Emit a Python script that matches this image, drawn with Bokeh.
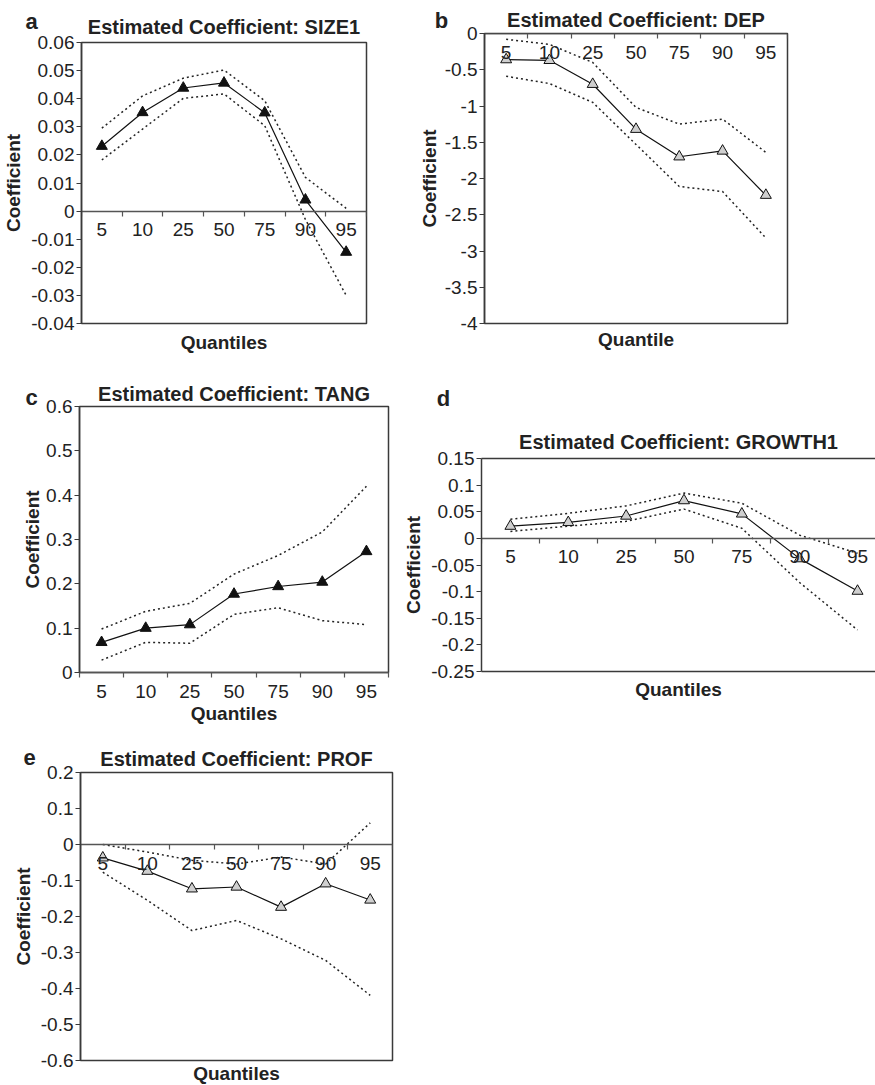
from bokeh.plotting import figure
from bokeh.models import Range1d, FixedTicker, LinearAxis, Label, Title
from bokeh.layouts import column, row
from bokeh.embed import file_html
from bokeh.resources import INLINE

QUANTILES = ["5", "10", "25", "50", "75", "90", "95"]

SIZE1_COEF = [0.0231, 0.0351, 0.0438, 0.0456, 0.0350, 0.0040, -0.0146]
SIZE1_UPPER = [0.0295, 0.0410, 0.0473, 0.0502, 0.0393, 0.0120, 0.0010]
SIZE1_LOWER = [0.0182, 0.0292, 0.0401, 0.0417, 0.0304, -0.0030, -0.0300]
SIZE1_YTICKS = ["-0.04", "-0.03", "-0.02", "-0.01", "0", "0.01", "0.02",
                "0.03", "0.04", "0.05", "0.06"]

DEP_COEF = [-0.36, -0.37, -0.70, -1.32, -1.70, -1.62, -2.23]
DEP_UPPER = [-0.08, -0.15, -0.40, -1.02, -1.25, -1.18, -1.64]
DEP_LOWER = [-0.59, -0.69, -0.95, -1.53, -2.11, -2.18, -2.82]
DEP_YTICKS = ["-4", "-3.5", "-3", "-2.5", "-2", "-1.5", "-1", "-0.5", "0"]

TANG_COEF = [0.068, 0.100, 0.108, 0.177, 0.194, 0.204, 0.273]
TANG_UPPER = [0.098, 0.138, 0.156, 0.222, 0.264, 0.317, 0.420]
TANG_LOWER = [0.028, 0.068, 0.066, 0.131, 0.146, 0.117, 0.108]
TANG_YTICKS = ["0", "0.1", "0.2", "0.3", "0.4", "0.5", "0.6"]

GROWTH1_COEF = [0.023, 0.030, 0.042, 0.071, 0.046, -0.038, -0.099]
GROWTH1_UPPER = [0.036, 0.047, 0.061, 0.085, 0.066, 0.006, -0.028]
GROWTH1_LOWER = [0.013, 0.023, 0.032, 0.055, 0.019, -0.083, -0.172]
GROWTH1_YTICKS = ["-0.25", "-0.2", "-0.15", "-0.1", "-0.05", "0", "0.05",
                  "0.1", "0.15"]

PROF_COEF = [-0.037, -0.074, -0.123, -0.118, -0.174, -0.109, -0.154]
PROF_UPPER = [0.000, -0.021, -0.044, -0.054, -0.035, -0.054, 0.060]
PROF_LOWER = [-0.077, -0.155, -0.239, -0.211, -0.262, -0.322, -0.419]
PROF_YTICKS = ["-0.6", "-0.5", "-0.4", "-0.3", "-0.2", "-0.1", "0", "0.1", "0.2"]

FONT = "Liberation Sans"
INK = "#222222"
FRAME = "#3a3a3a"
TICK_FS = "19px"
TITLE_FS = "20px"
LABEL_FS = "19px"


def blank_axis():
    ax = LinearAxis(ticker=FixedTicker(ticks=[]))
    ax.major_tick_out = 0
    ax.major_tick_in = 0
    ax.minor_tick_out = 0
    ax.minor_tick_in = 0
    ax.major_label_text_font_size = "0px"
    ax.axis_line_color = FRAME
    ax.axis_line_width = 1.5
    return ax


def panel(letter, title, xlabel, coef, upper, lower, yticks, filled,
          width, height, border, x_span=None, open_right=False,
          title_standoff=8, xlabel_standoff=8, xlabel_on_axis=False,
          ylabel_standoff=4, letter_side="right", letter_xy=(0, 0)):
    n = len(QUANTILES)
    xs = [i + 0.5 for i in range(n)]
    yvals = [float(t) for t in yticks]
    x_end = x_span if x_span else n
    p = figure(width=width, height=height,
               x_range=Range1d(0, x_end),
               y_range=Range1d(yvals[0], yvals[-1]),
               output_backend="svg", toolbar_location=None,
               x_axis_location=None, y_axis_location="left",
               min_border_left=border[0], min_border_right=border[1],
               min_border_top=border[2], min_border_bottom=border[3])
    p.frame_align = False
    p.background_fill_color = "white"
    p.border_fill_color = "white"
    p.grid.visible = False
    if open_right:
        p.outline_line_color = None
        p.add_layout(blank_axis(), "above")
        p.add_layout(blank_axis(), "below")
    else:
        p.outline_line_color = FRAME
        p.outline_line_width = 1.5

    p.title.text = title
    p.title.align = "center"
    p.title.text_font = FONT
    p.title.text_font_size = TITLE_FS
    p.title.text_font_style = "bold"
    p.title.text_color = INK
    p.title.standoff = title_standoff

    ya = p.yaxis[0]
    ya.ticker = FixedTicker(ticks=yvals)
    ya.major_label_overrides = {v: s for v, s in zip(yvals, yticks)}
    ya.major_tick_out = 5
    ya.major_tick_in = 0
    ya.minor_tick_out = 0
    ya.minor_tick_in = 0
    ya.major_label_standoff = 2
    ya.major_label_text_font = FONT
    ya.major_label_text_font_size = TICK_FS
    ya.major_label_text_color = INK
    ya.axis_line_color = FRAME
    ya.axis_line_width = 1.5
    ya.major_tick_line_color = FRAME
    ya.major_tick_line_width = 1.2
    ya.axis_label = "Coefficient"
    ya.axis_label_text_font = FONT
    ya.axis_label_text_font_size = LABEL_FS
    ya.axis_label_text_font_style = "bold"
    ya.axis_label_text_color = INK
    ya.axis_label_standoff = ylabel_standoff

    bounds = [b for b in range(n + 1) if b <= x_end]
    ticker = FixedTicker(ticks=xs, minor_ticks=bounds)
    if xlabel_on_axis:
        xa = LinearAxis(ticker=ticker)
        xa.axis_label = xlabel
        xa.axis_label_standoff = xlabel_standoff
        xa.axis_label_text_font = FONT
        xa.axis_label_text_font_size = LABEL_FS
        xa.axis_label_text_font_style = "bold"
        xa.axis_label_text_color = INK
    else:
        xa = LinearAxis(fixed_location=0, ticker=ticker)
    xa.major_label_overrides = {x: q for x, q in zip(xs, QUANTILES)}
    xa.major_tick_out = 0
    xa.major_tick_in = 0
    xa.minor_tick_out = 5
    xa.minor_tick_in = 0
    xa.major_label_standoff = 7
    xa.major_label_text_font = FONT
    xa.major_label_text_font_size = TICK_FS
    xa.major_label_text_color = INK
    xa.axis_line_color = "#555555"
    xa.axis_line_width = 1.5
    xa.minor_tick_line_color = "#555555"
    xa.minor_tick_line_width = 1.2
    p.add_layout(xa, "below")

    if not xlabel_on_axis:
        p.add_layout(Title(text=xlabel, align="center", text_font=FONT,
                           text_font_size=LABEL_FS, text_font_style="bold",
                           text_color=INK, standoff=xlabel_standoff),
                     "below")

    p.add_layout(Label(x=letter_xy[0], y=letter_xy[1], x_units="canvas",
                       y_units="canvas", text=letter, text_font=FONT,
                       text_font_size="22px", text_font_style="bold",
                       text_color=INK, text_align="center",
                       text_baseline="alphabetic"), letter_side)

    p.line(xs, upper, line_color="#222222", line_width=1.5, line_dash="2 3")
    p.line(xs, lower, line_color="#222222", line_width=1.5, line_dash="2 3")
    p.line(xs, coef, line_color="#111111", line_width=1.2)
    p.scatter(xs, coef, marker="triangle", size=11,
              fill_color="#111111" if filled else "#cfcfcf",
              line_color="#111111", line_width=1)
    return p


pa = panel("a", "Estimated Coefficient: SIZE1", "Quantiles",
           SIZE1_COEF, SIZE1_UPPER, SIZE1_LOWER, SIZE1_YTICKS, True,
           width=415, height=360, border=(80, 49, 42, 37),
           title_standoff=10, xlabel_standoff=12, letter_xy=(31, 21))

pb = panel("b", "Estimated Coefficient: DEP", "Quantile",
           DEP_COEF, DEP_UPPER, DEP_LOWER, DEP_YTICKS, False,
           width=460, height=360, border=(64, 88, 33, 37),
           title_standoff=6, xlabel_standoff=6, ylabel_standoff=2,
           letter_xy=(26, 20))

pc = panel("c", "Estimated Coefficient: TANG", "Quantiles",
           TANG_COEF, TANG_UPPER, TANG_LOWER, TANG_YTICKS, True,
           width=400, height=375, border=(79, 12, 46, 63),
           title_standoff=4, xlabel_standoff=2, xlabel_on_axis=True,
           ylabel_standoff=0, letter_side="left", letter_xy=(31, 37))

pd_ = panel("d", "Estimated Coefficient: GROWTH1", "Quantiles",
            GROWTH1_COEF, GROWTH1_UPPER, GROWTH1_LOWER, GROWTH1_YTICKS, False,
            width=475, height=375, border=(80, 0, 98, 64),
            x_span=395 / 58, open_right=True, title_standoff=12,
            xlabel_standoff=10, letter_side="below", letter_xy=(43, 38))

pe = panel("e", "Estimated Coefficient: PROF", "Quantiles",
           PROF_COEF, PROF_UPPER, PROF_LOWER, PROF_YTICKS, False,
           width=430, height=350, border=(80, 38, 37, 25),
           title_standoff=6, xlabel_standoff=1, letter_xy=(29, 22))

layout = column(row(pa, pb), row(pc, pd_), pe)

with open("out.html", "w") as f:
    f.write(file_html(layout, INLINE))
